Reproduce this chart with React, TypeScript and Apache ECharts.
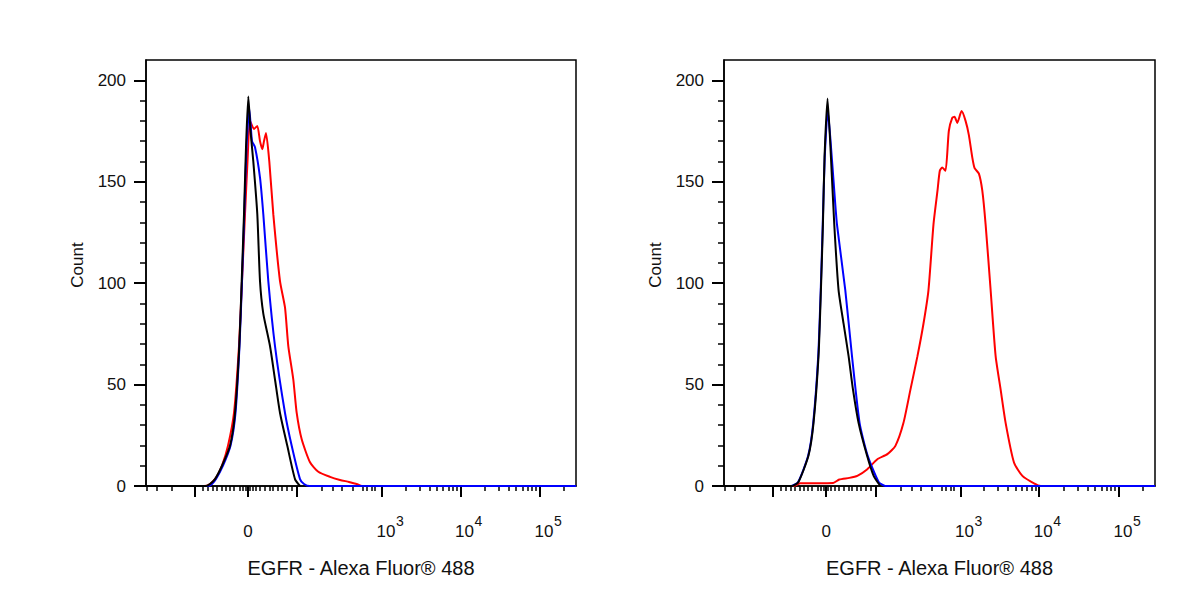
import { useEffect, useRef } from 'react';
import * as echarts from 'echarts';

// x values are display channels of the logicle axis (0..430 across the plot)
const xMax = 430;
const yMax = 210;

const xMajorTicks = [49, 102, 151, 236, 314.5, 394];
const xMinorTicks = [
  1, 11, 26, 57, 62, 67, 71, 76, 80, 84, 88, 94, 97, 100, 104, 107, 110, 114, 119, 124, 127,
  132, 136, 141, 146, 176, 187, 196, 207, 217, 221, 226, 229, 259.5, 273.5, 283.5, 291, 297,
  302.5, 307, 311, 338.5, 352.5, 362.5, 370, 376.5, 381.5, 386, 390, 418,
];
// base of each label ("0", "10") and the exponent written above it
const xLabelValues = [102, 236, 314.5, 394];
const xLabelBase = ['{z|0}', '{b|10}', '{b|10}', '{b|10}'];
const xExpValues = [236, 314.5, 394];
const xExpTexts = ['3', '4', '5'];

const yMajorTicks = [0, 50, 100, 150, 200];
const yMinorTicks = [10, 20, 30, 40, 60, 70, 80, 90, 110, 120, 130, 140, 160, 170, 180, 190];

const xName = 'EGFR - Alexa Fluor® 488';
const yName = 'Count';

// left panel
const leftRed: [number, number][] = [
  [0, 0], [58, 0], [64, 1], [70, 4], [76, 10], [82, 19.8], [88, 36], [93, 69], [96, 101],
  [99, 134], [101.5, 160], [104, 180], [108, 176], [111.3, 177.5], [114, 170], [116.3, 166],
  [118, 170], [120, 174], [123.3, 160], [127.3, 134], [134, 101], [139, 88], [142.3, 69],
  [147.3, 52.5], [150.7, 36], [155.7, 23], [164, 11.7], [172.3, 7], [184, 4.5], [194, 3],
  [203, 2], [210.7, 1], [216, 0], [430, 0],
];
const leftBlue: [number, number][] = [
  [0, 0], [62, 0], [66, 1], [70, 3.4], [77, 10], [84.5, 19.8], [89.5, 36], [93.5, 69], [96, 101],
  [98.3, 134], [100.5, 167], [103.3, 186], [106, 170], [109, 167], [114, 152], [117.3, 134],
  [122.3, 101], [129, 69], [139, 36], [145.7, 19.8], [154, 3.4], [158, 1], [164, 0], [430, 0],
];
const leftBlack: [number, number][] = [
  [0, 0], [60, 0], [64, 1], [69, 3.4], [76, 10], [84, 19.8], [89, 36], [93.3, 69], [95.7, 101],
  [98, 134], [100, 167], [102.3, 192], [104.5, 175], [107.3, 160], [111.3, 134], [114, 101],
  [117.3, 85], [124, 69], [129, 52.5], [134, 36], [141.3, 19.8], [149, 3.4], [154, 0],
];

// right panel
const rightRed: [number, number][] = [
  [0, 0], [70, 0], [76, 1.3], [109, 1.5], [115, 3.2], [125, 4], [133, 5], [143, 8.3], [153, 13.2],
  [163, 15.7], [171, 19.8], [179, 31], [186, 47.5], [193, 64], [199, 80], [204, 96.6],
  [209, 129], [213, 145.6], [215.3, 155.4], [217.7, 157], [221, 155.4], [224.3, 175],
  [227.7, 181.5], [230, 182], [232.7, 179], [237, 184.8], [241, 180], [244.3, 173],
  [247.7, 162], [250, 156.7], [254.3, 154], [257.7, 145.6], [261, 129], [266, 96.6], [271, 64],
  [276, 47.5], [281, 31], [289.3, 11.6], [297.7, 5], [309.3, 1.3], [316, 0], [430, 0],
];
const rightBlue: [number, number][] = [
  [0, 0], [67, 0], [74, 2], [84, 15], [89, 31], [94, 64], [96.5, 96.6], [98.5, 129],
  [100.5, 162], [103.5, 185], [106, 172], [110, 145.6], [112.7, 129], [121, 96.6],
  [127.7, 64], [135.3, 31], [143.3, 15], [154.3, 2], [161, 0], [430, 0],
];
const rightBlack: [number, number][] = [
  [0, 0], [68, 0], [74.3, 2], [84.3, 15], [89.3, 31], [94.3, 64], [96.7, 96.6], [98.7, 129],
  [100.3, 162], [103.3, 191], [106.7, 162], [110, 129], [114.3, 96.6], [119.3, 80],
  [124.3, 64], [128.7, 47.5], [134.3, 31], [142.7, 15], [149.3, 5], [156, 0],
];

const FONT = '"Liberation Sans", Arial, sans-serif';
const TEXT = '#111';

const pick = (values: number[], texts: string[], v: number) => {
  const i = values.findIndex((x) => Math.abs(x - v) < 0.01);
  return i >= 0 ? texts[i] : '';
};

function xAxes(grid: number): any[] {
  return [
    {
      type: 'value',
      gridIndex: grid,
      position: 'bottom',
      min: 0,
      max: xMax,
      name: xName,
      nameLocation: 'middle',
      nameGap: 72,
      nameTextStyle: { fontFamily: FONT, fontSize: 20, color: TEXT },
      axisLine: { show: true, lineStyle: { color: '#000', width: 1.5 } },
      axisTick: {
        show: true,
        customValues: xMajorTicks,
        length: 11,
        lineStyle: { color: '#000', width: 2 },
      },
      axisLabel: {
        customValues: xLabelValues,
        margin: 37,
        formatter: (v: number) => pick(xLabelValues, xLabelBase, v),
        rich: {
          z: { fontFamily: FONT, fontSize: 17, color: TEXT },
          b: { fontFamily: FONT, fontSize: 17, color: TEXT, padding: [0, 0, 0, 8] },
        },
      },
      splitLine: { show: false },
    },
    {
      type: 'value',
      gridIndex: grid,
      position: 'bottom',
      offset: 0,
      min: 0,
      max: xMax,
      axisLine: { show: false },
      axisTick: {
        show: true,
        customValues: xMinorTicks,
        length: 5,
        lineStyle: { color: '#000', width: 1.5 },
      },
      axisLabel: {
        customValues: xExpValues,
        margin: 28,
        align: 'left',
        formatter: (v: number) => '{s|' + pick(xExpValues, xExpTexts, v) + '}',
        rich: {
          s: { fontFamily: FONT, fontSize: 14, color: TEXT, padding: [0, 0, 0, 14] },
        },
      },
      splitLine: { show: false },
    },
  ];
}

function yAxes(grid: number): any[] {
  return [
    {
      type: 'value',
      gridIndex: grid,
      position: 'left',
      min: 0,
      max: yMax,
      name: yName,
      nameLocation: 'middle',
      nameGap: 60,
      nameTextStyle: { fontFamily: FONT, fontSize: 17, color: TEXT, padding: [0, 0, 0, 16] },
      axisLine: { show: true, lineStyle: { color: '#000', width: 1.5 } },
      axisTick: {
        show: true,
        customValues: yMajorTicks,
        length: 12,
        lineStyle: { color: '#000', width: 2 },
      },
      axisLabel: {
        customValues: yMajorTicks,
        margin: 20,
        fontFamily: FONT,
        fontSize: 17,
        color: TEXT,
      },
      splitLine: { show: false },
    },
    {
      type: 'value',
      gridIndex: grid,
      position: 'left',
      offset: 0,
      min: 0,
      max: yMax,
      axisLine: { show: false },
      axisTick: {
        show: true,
        customValues: yMinorTicks,
        length: 6,
        lineStyle: { color: '#000', width: 1.5 },
      },
      axisLabel: { show: false },
      splitLine: { show: false },
    },
  ];
}

function line(name: string, data: [number, number][], color: string, axis: number) {
  return {
    name,
    type: 'line',
    xAxisIndex: axis,
    yAxisIndex: axis,
    data,
    smooth: 0.2,
    symbol: 'none',
    lineStyle: { color, width: 2 },
  };
}

export default function App() {
  const chartRef = useRef<HTMLDivElement>(null);

  useEffect(() => {
    if (!chartRef.current) return;
    document.body.style.margin = '0';

    const chart = echarts.init(chartRef.current, null, { renderer: 'svg' });

    const option: echarts.EChartsOption = {
      backgroundColor: '#fff',
      animation: false,
      grid: [
        { left: 146, top: 60, width: 430, height: 426, show: true, borderColor: '#000', borderWidth: 1.5 },
        { left: 724, top: 60, width: 431, height: 426, show: true, borderColor: '#000', borderWidth: 1.5 },
      ],
      xAxis: [...xAxes(0), ...xAxes(1)],
      yAxis: [...yAxes(0), ...yAxes(1)],
      series: [
        line('Left red', leftRed, '#ff0000', 0),
        line('Left blue', leftBlue, '#0000ff', 0),
        line('Left black', leftBlack, '#000000', 0),
        line('Right red', rightRed, '#ff0000', 2),
        line('Right blue', rightBlue, '#0000ff', 2),
        line('Right black', rightBlack, '#000000', 2),
      ] as any,
    };

    chart.setOption(option);

    return () => {
      chart.dispose();
    };
  }, []);

  return <div ref={chartRef} style={{ width: 1200, height: 600 }} />;
}
